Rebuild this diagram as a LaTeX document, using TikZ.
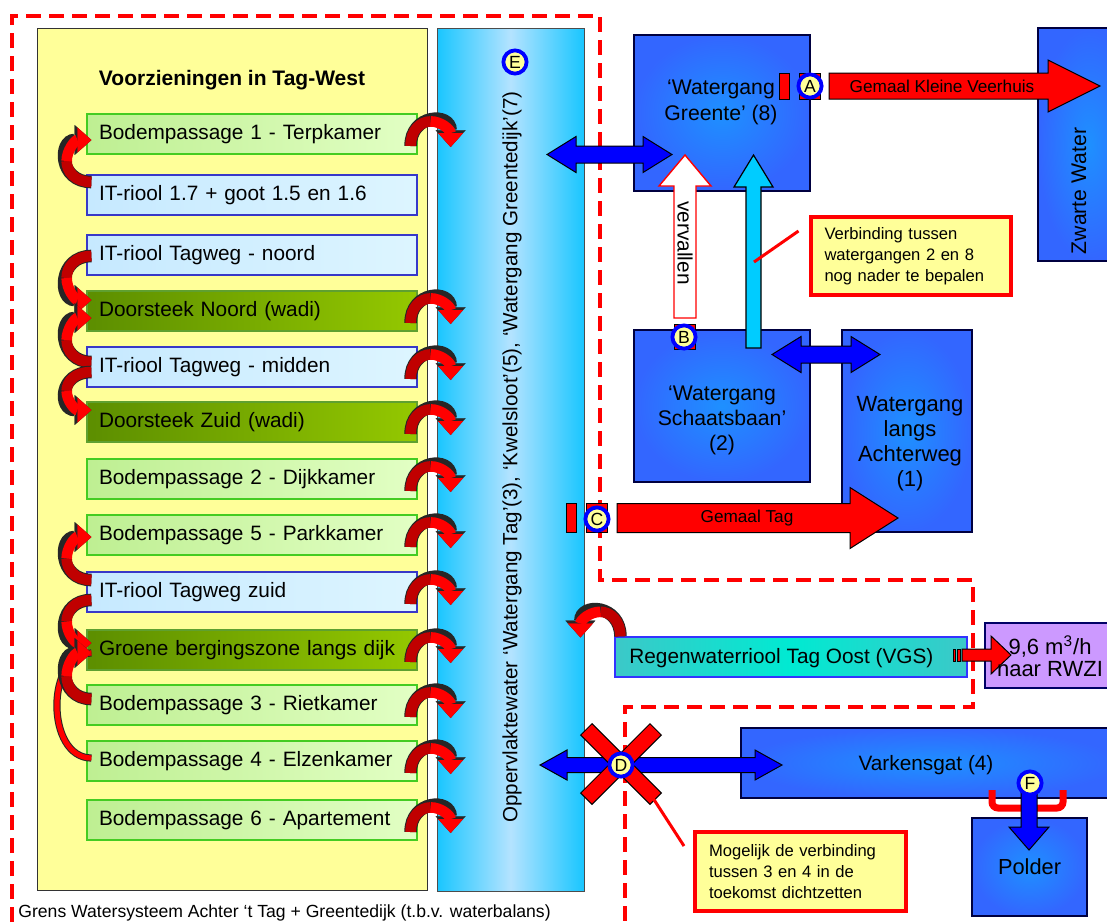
\documentclass[tikz,border=0pt]{standalone}
\usepackage{fontspec}
\setmainfont{Liberation Sans}
\usepackage{tikz}
\usetikzlibrary{arrows.meta, positioning, calc}
\usepackage{xcolor}
\definecolor{boxYellow}{HTML}{FFFF99}
\definecolor{colEdge}{HTML}{19C6FF}
\definecolor{colMid}{HTML}{B4E3FF}
\definecolor{wgEdge}{HTML}{3366FF}
\definecolor{wgMid}{HTML}{1E90FF}
\definecolor{lgLeft}{HTML}{BEEF92}
\definecolor{lgRight}{HTML}{E2FFC4}
\definecolor{lgLine}{HTML}{44CC22}
\definecolor{lbLeft}{HTML}{C6E9FF}
\definecolor{lbRight}{HTML}{DDF5FF}
\definecolor{lbLine}{HTML}{3838C8}
\definecolor{dgLeft}{HTML}{5C8E00}
\definecolor{dgRight}{HTML}{94C800}
\definecolor{dgLine}{HTML}{5FA030}
\definecolor{curlRed}{HTML}{FF0000}
\definecolor{curlDark}{HTML}{C00000}
\definecolor{tealEdge}{HTML}{3CC8C8}
\definecolor{tealMid}{HTML}{00EAD2}
\definecolor{rwziPurple}{HTML}{CC99FF}
\definecolor{arrowBlue}{HTML}{0000FF}
\definecolor{arrowCyan}{HTML}{00CCFF}

\newcommand{\txtmain}{\fontsize{10.4}{12.5}\selectfont}
\newcommand{\txtbig}{\fontsize{10.6}{13}\selectfont}
\newcommand{\txtbold}{\fontsize{10.5}{13}\selectfont\bfseries}
\newcommand{\txtsmall}{\fontsize{8.6}{10.3}\selectfont}
\newcommand{\txtnote}{\fontsize{8.3}{10.4}\selectfont}
\newcommand{\txtcirc}{\fontsize{8.8}{10}\selectfont}
\newcommand{\txtcap}{\fontsize{8.8}{10}\selectfont}
\newcommand{\txtcol}{\fontsize{10.3}{12}\selectfont}

% block arrows: style, from, to, axis, body half, head half, head length
\newcommand{\blockright}[7]{\filldraw[#1] (#2,#4-#5) -- (#3-#7,#4-#5) -- (#3-#7,#4-#6) -- (#3,#4) -- (#3-#7,#4+#6) -- (#3-#7,#4+#5) -- (#2,#4+#5) -- cycle;}
\newcommand{\blockboth}[7]{\filldraw[#1] (#2,#4) -- (#2+#7,#4-#6) -- (#2+#7,#4-#5) -- (#3-#7,#4-#5) -- (#3-#7,#4-#6) -- (#3,#4) -- (#3-#7,#4+#6) -- (#3-#7,#4+#5) -- (#2+#7,#4+#5) -- (#2+#7,#4+#6) -- cycle;}
\newcommand{\blockup}[7]{\filldraw[#1] (#2-#5,#3) -- (#2-#5,#4+#7) -- (#2-#6,#4+#7) -- (#2,#4) -- (#2+#6,#4+#7) -- (#2+#5,#4+#7) -- (#2+#5,#3) -- cycle;}
\newcommand{\blockdown}[7]{\filldraw[#1] (#2-#5,#3) -- (#2-#5,#4-#7) -- (#2-#6,#4-#7) -- (#2,#4) -- (#2+#6,#4-#7) -- (#2+#5,#4-#7) -- (#2+#5,#3) -- cycle;}

% curved arrow between two facilities (tail node, shift, head node, shift)
\newcommand{\lcurl}[4]{%
  \coordinate (lt) at ($(#1.west)+(5,#2)$);
  \coordinate (lh) at ($(#3.west)+(5,#4)$);
  \draw[curlout] (lt) .. controls +(-33,0) and +(-33,0) .. (lh);
  \draw[curldark] (lt) .. controls +(-16.5,0) and ($(lt)!0.25!(lh)+(-24.75,0)$) .. ($(lt)!0.5!(lh)+(-24.75,0)$);
  \draw[curlred] ($(lt)!0.5!(lh)+(-24.75,0)$) .. controls ($(lt)!0.75!(lh)+(-24.75,0)$) and +(-16.5,0) .. (lh);
}

\tikzset{
  rcurl/.pic={
    \draw[curlout] (-7,12) .. controls (-7,-20) and (33,-22) .. (33,13);
    \draw[curldark] (-7,12) .. controls (-7,-4) and (3,-12.5) .. (13,-12.6);
    \draw[curlred] (13,-12.6) .. controls (23,-12.75) and (33,-4.5) .. (33,13);
  }
}

\begin{document}
\begin{tikzpicture}[x=0.5pt, y=-0.5pt,
    rowbox/.style={rectangle, text width=153pt, inner xsep=6pt, inner ysep=0pt, minimum height=20pt, align=left, font=\txtmain, line width=0.6pt},
    lgbox/.style={rowbox, draw=lgLine, left color=lgLeft, right color=lgRight},
    lbbox/.style={rowbox, draw=lbLine, left color=lbLeft, right color=lbRight},
    dgbox/.style={rowbox, draw=dgLine, left color=dgLeft, right color=dgRight},
    wgbox/.style={rectangle, draw=black!75!blue, line width=0.6pt, inner color=wgMid, outer color=wgEdge, inner sep=0pt},
    wgtext/.style={align=center, font=\txtbig, inner sep=0pt},
    circ/.style={circle, draw=arrowBlue, line width=1.9pt, fill=boxYellow, minimum size=11.6pt, inner sep=0pt, font=\txtcirc},
    curlout/.style={draw=black!85, line width=6.3pt, -{Triangle[length=8.4pt, width=15pt, line width=0.1pt]}},
    curldark/.style={draw=curlDark, line width=5.3pt},
    curlred/.style={draw=curlRed, line width=5.3pt, -{Triangle[length=7pt, width=12.5pt, line width=0.1pt]}},
    redblk/.style={fill=red, draw=black, line width=0.5pt},
    blueblk/.style={fill=arrowBlue, draw=black, line width=0.5pt},
    whiteblk/.style={fill=white, draw=red, line width=0.7pt},
    cyanblk/.style={fill=arrowCyan, draw=black, line width=0.6pt},
    valve/.style={fill=red, draw=black, line width=0.5pt},
    bound/.style={draw=red, line width=1.7pt, dash pattern=on 7.5pt off 4pt},
    note/.style={rectangle, draw=red, line width=2pt, fill=boxYellow, align=left, font=\txtnote, inner xsep=7pt, inner ysep=0pt},
    callline/.style={draw=red, line width=1.5pt},
    xbar/.style={rectangle, fill=red, draw=black, line width=0.5pt, minimum width=49pt, minimum height=8pt, inner sep=0pt}]

    \clip (0,0) rectangle (1107,922);

    % Tag-West and surface water
    \node[rectangle, draw=black!80, fill=boxYellow, line width=0.5pt, minimum width=195pt, minimum height=431pt, inner sep=0pt] (tagwest) at (232,459) {};
    \node[rectangle, draw=black!70, line width=0.5pt, left color=colEdge, right color=colEdge, middle color=colMid, minimum width=73.5pt, minimum height=431.5pt, inner sep=0pt] (opp) at (510.5,459.5) {};
    \node[font=\txtbold] (title) at (232,80) {Voorzieningen in Tag-West};
    \node[font=\txtcol, rotate=90] (opptxt) at (512,457) {Oppervlaktewater ‘Watergang Tag’(3), ‘Kwelsloot’(5), ‘Watergang Greentedijk’(7)};

    % Facilities
    \foreach \nm/\yc/\txt in {bp1/134/Bodempassage 1 - Terpkamer, bp2/479/Bodempassage 2 - Dijkkamer,
        bp5/535/Bodempassage 5 - Parkkamer, bp3/705/Bodempassage 3 - Rietkamer,
        bp4/761/Bodempassage 4 - Elzenkamer, bp6/820/Bodempassage 6 - Apartement}
        \node[lgbox] (\nm) at (252,\yc) {\txt};
    \foreach \nm/\yc/\txt in {itr17/195/IT-riool 1.7 + goot 1.5 en 1.6, itrn/255/IT-riool Tagweg - noord,
        itrm/367/IT-riool Tagweg - midden, itrz/592/IT-riool Tagweg zuid}
        \node[lbbox] (\nm) at (252,\yc) {\txt};
    \foreach \nm/\yc/\txt in {dsn/311/Doorsteek Noord (wadi), dsz/422/Doorsteek Zuid (wadi),
        gbz/650/Groene bergingszone langs dijk}
        \node[dgbox] (\nm) at (252,\yc) {\txt};

    % Flows between facilities
    \draw[draw=black!85, line width=3.6pt] ($(bp4.west)+(5,-3)$) .. controls +(-46,0) and +(-46,0) .. ($(gbz.west)+(5,3)$);
    \draw[draw=curlRed, line width=2.6pt] ($(bp4.west)+(5,-3)$) .. controls +(-46,0) and +(-46,0) .. ($(gbz.west)+(5,3)$);
    \lcurl{itr17}{-13}{bp1}{6}
    \lcurl{itrn}{1}{dsn}{-11}
    \lcurl{itrm}{-5}{dsn}{7}
    \lcurl{itrm}{5}{dsz}{-12}
    \lcurl{itrz}{-12}{bp5}{2}
    \lcurl{itrz}{8}{gbz}{-7}
    \lcurl{bp3}{-6}{gbz}{3}

    % Discharge to surface water
    \foreach \nm in {bp1,dsn,itrm,dsz,bp2,bp5,itrz,gbz,bp3,bp4,bp6}
        \pic at (\nm.east) {rcurl};

    % Boundary of the water system
    \draw[bound] (12,922) -- (12,16) -- (600,16) -- (600,580) -- (973,580) -- (973,707) -- (625,707) -- (625,922);

    % Watergangen
    \node[wgbox, minimum width=88pt, minimum height=78pt] (greente) at (722,113) {};
    \node[wgbox, minimum width=51pt, minimum height=116.5pt] (zwarte) at (1089,144.5) {};
    \node[wgbox, minimum width=88pt, minimum height=76pt] (schaats) at (722,406) {};
    \node[wgbox, minimum width=65pt, minimum height=101pt] (achter) at (907,431) {};
    \node[wgbox, minimum width=189.5pt, minimum height=35pt] (varkens) at (930.5,763) {};
    \node[wgbox, minimum width=57.5pt, minimum height=49pt, font=\fontsize{10.9}{13}\selectfont] (polder) at (1029.5,867) {Polder};
    \node[rectangle, draw=blue!80, line width=0.6pt, left color=tealEdge, right color=tealEdge, middle color=tealMid, minimum width=176pt, minimum height=20pt, inner sep=0pt] (regen) at (791,657) {};
    \node[rectangle, draw=black!60!blue, line width=0.6pt, fill=rwziPurple, minimum width=65pt, minimum height=32.5pt, inner sep=0pt] (rwzi) at (1050,655.5) {};

    % Connections
    \blockright{redblk}{829}{1100}{86}{13}{26}{52}
    \blockboth{blueblk}{547}{672}{154.5}{8.5}{18}{29}
    \blockup{whiteblk}{685}{318}{155}{11}{26}{31}
    \blockup{cyanblk}{753.5}{348}{155}{7.5}{19.5}{32}
    \blockboth{blueblk}{772}{880}{354.5}{8.5}{18}{29}
    \blockright{redblk}{617}{898}{518}{14.5}{30.5}{48}
    \blockright{redblk}{962}{1011}{655}{6}{19}{20}
    \filldraw[valve] (953,649) rectangle (955,661);
    \filldraw[valve] (957,649) rectangle (960,661);
    \pic[xscale=-1] at ($(regen.north west)+(-1,-12)$) {rcurl};

    % Valves
    \filldraw[valve] (779,73) rectangle (789,99);
    \filldraw[valve] (799,73) rectangle (820,99);
    \filldraw[valve] (674,324) rectangle (695,349);
    \filldraw[valve] (566,503) rectangle (576,532);
    \filldraw[valve] (586,503) rectangle (607,532);

    % Varkensgat and polder
    \blockboth{blueblk}{540}{782}{765}{7.5}{15}{27}
    \draw[draw=red, line width=3.5pt, rounded corners=3pt] (992,790) -- (992,808) -- (1063,808) -- (1063,790);
    \blockdown{blueblk}{1029}{783}{850}{8}{20}{23}

    % Notes
    \node[note, text width=86pt, minimum height=39pt] (call1) at (910.5,256) {Verbinding tussen\\watergangen 2 en 8\\nog nader te bepalen};
    \node[note, text width=91.5pt, minimum height=39.5pt] (call2) at (800.5,871.5) {Mogelijk de verbinding\\tussen 3 en 4 in de\\toekomst dichtzetten};
    \coordinate (cyanpt) at (754,262);
    \draw[callline] (cyanpt) -- ($(call1.north west)+(-10,16)$);
    \node[xbar, rotate=45] (xup) at (621,764) {};
    \node[xbar, rotate=-45] (xdown) at (621,764) {};
    \draw[callline] ($(xdown.east)+(-5,-4)$) -- ($(call2.north west)+(-9,16)$);

    % Labels
    \node[circ] (cA) at (810,86) {A};
    \node[circ] (cB) at (684,337) {B};
    \node[circ] (cC) at (597,519) {C};
    \node[circ] (cD) at (621,765) {D};
    \node[circ] (cE) at (515,62) {E};
    \node[circ] (cF) at (1030,783) {F};

    \node[wgtext] (greentetxt) at (721,102) {‘Watergang\\Greente’ (8)};
    \node[wgtext, rotate=90] (zwartetxt) at (1079,191) {Zwarte Water};
    \node[wgtext, font=\fontsize{10.6}{12.5}\selectfont] (schaatstxt) at (722,420) {‘Watergang\\Schaatsbaan’\\(2)};
    \node[wgtext, font=\fontsize{11}{12.5}\selectfont] (achtertxt) at (910,444) {Watergang\\langs\\Achterweg\\(1)};
    \node[font=\txtmain, rotate=-90, inner sep=0pt] (vervtxt) at (685,243) {vervallen};
    \node[font=\txtsmall, inner sep=0pt] (kvtxt) at (942,86) {Gemaal Kleine Veerhuis};
    \node[font=\txtsmall, inner sep=0pt] (tagtxt) at (747,518) {Gemaal Tag};
    \node[font=\txtmain, anchor=west, inner sep=0pt] (regentxt) at (629,658) {Regenwaterriool Tag Oost (VGS)};
    \node[wgtext, font=\fontsize{11}{11}\selectfont] (rwzitxt) at (1050,656) {9,6 m\textsuperscript{3}/h\\naar RWZI};
    \node[font=\txtmain, inner sep=0pt] (varkenstxt) at (926,765) {Varkensgat (4)};
    \node[font=\txtcap, anchor=west, inner sep=0pt] (grens) at (18,913) {Grens Watersysteem Achter ‘t Tag + Greentedijk (t.b.v. waterbalans)};
\end{tikzpicture}
\end{document}
